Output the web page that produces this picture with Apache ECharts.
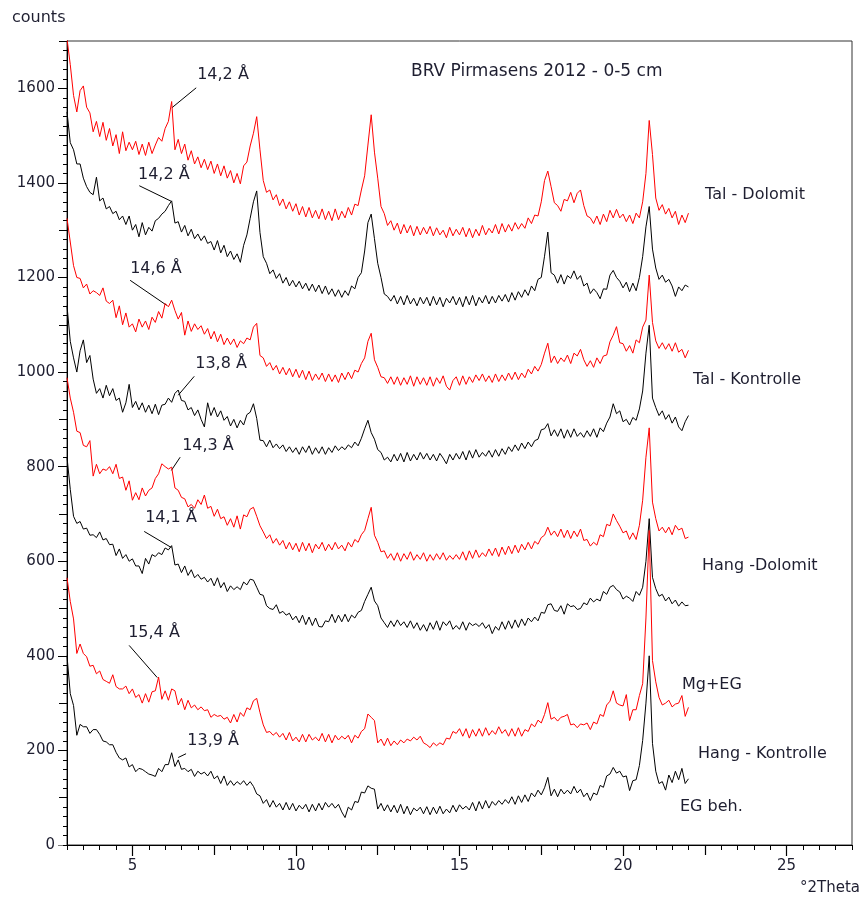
<!DOCTYPE html>
<html>
<head>
<meta charset="utf-8">
<script src="https://cdn.jsdelivr.net/npm/echarts@6/dist/echarts.min.js"></script>
<style>html,body{margin:0;padding:0;background:#fff}#main{width:862px;height:900px}</style>
</head>
<body>
<div id="main"></div>
<script>
// 2-theta grid (0.1° steps from 3.0° to 22.0°)
const twoTheta = Array.from({length: 191}, (_, i) => +(3 + i * 0.1).toFixed(1));

const xTickLabels = [5, 10, 15, 20, 25];
const yTickLabels = [0, 200, 400, 600, 800, 1000, 1200, 1400, 1600];

// Tal - Dolomit (Mg+EG, red)
const talDolomitMg = [
1705,1650,1585,1550,1595,1605,1560,1548,1508,1530,
1498,1528,1490,1515,1478,1502,1462,1508,1468,1486,
1470,1488,1460,1482,1458,1486,1462,1480,1496,1488,
1515,1530,1572,1470,1492,1462,1482,1448,1468,1440,
1455,1432,1450,1428,1446,1420,1440,1415,1436,1410,
1426,1400,1420,1398,1436,1444,1478,1505,1540,1470,
1405,1380,1385,1364,1375,1352,1366,1345,1360,1340,
1356,1332,1350,1328,1348,1326,1342,1324,1345,1322,
1340,1320,1345,1322,1340,1326,1348,1332,1355,1352,
1385,1415,1480,1544,1465,1410,1350,1335,1310,1320,
1300,1315,1292,1312,1294,1310,1288,1308,1290,1306,
1292,1308,1288,1305,1290,1300,1284,1306,1288,1302,
1290,1306,1286,1304,1284,1302,1288,1310,1290,1304,
1294,1312,1292,1314,1296,1312,1298,1316,1302,1314,
1304,1326,1314,1332,1330,1360,1405,1425,1392,1358,
1352,1340,1365,1362,1380,1358,1378,1385,1352,1330,
1326,1314,1330,1312,1334,1318,1342,1326,1344,1326,
1334,1318,1332,1314,1336,1326,1360,1420,1532,1460,
1368,1342,1354,1334,1346,1326,1340,1312,1332,1316,
1336];

// Tal - Dolomit (EG beh., black)
const talDolomitEG = [
1550,1485,1470,1440,1440,1410,1392,1380,1375,1412,
1362,1368,1345,1350,1335,1340,1322,1330,1312,1330,
1300,1312,1286,1316,1290,1306,1298,1320,1325,1334,
1340,1352,1362,1315,1318,1296,1310,1288,1302,1282,
1292,1278,1288,1272,1276,1258,1278,1252,1268,1244,
1256,1238,1250,1232,1268,1290,1325,1360,1383,1295,
1244,1230,1208,1216,1198,1208,1188,1200,1182,1194,
1180,1192,1176,1188,1172,1186,1170,1184,1166,1182,
1164,1176,1160,1174,1158,1172,1162,1182,1176,1200,
1210,1256,1316,1334,1282,1230,1200,1165,1160,1150,
1162,1144,1160,1142,1162,1144,1156,1140,1158,1144,
1158,1140,1160,1142,1158,1138,1156,1146,1160,1142,
1158,1138,1160,1142,1162,1140,1158,1146,1162,1144,
1160,1146,1162,1150,1164,1148,1168,1152,1170,1158,
1174,1162,1182,1172,1196,1200,1245,1296,1210,1205,
1188,1206,1186,1204,1198,1214,1196,1204,1182,1188,
1166,1176,1168,1155,1176,1175,1205,1215,1200,1192,
1178,1190,1170,1188,1172,1200,1244,1307,1350,1260,
1220,1196,1205,1190,1196,1182,1160,1180,1172,1184,
1180];

// Tal - Kontrolle (Mg+EG, red)
const talKontrolleMg = [
1325,1275,1225,1200,1198,1178,1186,1165,1172,1168,
1162,1178,1150,1145,1152,1115,1140,1100,1125,1095,
1102,1085,1112,1095,1108,1090,1116,1105,1128,1114,
1145,1138,1152,1130,1112,1126,1078,1108,1086,1102,
1090,1098,1080,1092,1070,1086,1064,1080,1058,1072,
1058,1070,1052,1066,1060,1072,1068,1095,1103,1035,
1030,1012,1020,1004,1014,996,1010,994,1008,990,
1006,988,1004,984,1002,982,996,984,998,980,
996,980,994,978,998,984,1000,986,1004,1000,
1018,1030,1065,1082,1026,1010,990,988,976,990,
974,990,972,988,974,992,970,990,974,988,
972,990,970,988,976,992,970,962,982,990,
972,992,974,990,978,994,982,996,980,992,
978,996,980,994,982,998,984,1000,984,998,
988,1006,996,1012,1002,1016,1040,1061,1020,1034,
1018,1030,1022,1036,1018,1040,1034,1048,1026,1012,
1024,1010,1030,1018,1034,1036,1064,1078,1096,1062,
1060,1044,1056,1040,1068,1062,1095,1110,1205,1105,
1066,1050,1062,1048,1060,1044,1062,1042,1048,1030,
1046];

// Tal - Kontrolle (EG beh., black)
const talKontrolleEG = [
1140,1065,1030,1000,1045,1068,1020,1035,985,955,
965,945,972,950,965,940,945,915,935,974,
925,938,920,935,915,930,912,932,910,930,
932,945,936,955,962,940,938,920,925,908,
920,900,884,935,908,925,905,918,898,906,
886,900,882,898,888,910,915,933,902,856,
855,842,856,840,848,838,846,832,842,830,
840,826,842,830,844,826,840,828,842,826,
840,830,844,834,842,836,846,840,852,844,
860,880,898,872,858,836,830,814,820,810,
826,812,828,810,830,812,826,814,830,816,
828,814,826,812,828,818,806,826,814,828,
816,832,814,834,818,836,820,830,822,834,
820,836,822,838,826,842,832,846,834,850,
838,852,842,855,858,878,880,891,865,878,
864,880,860,878,862,880,864,872,862,876,
864,880,862,882,874,892,905,933,912,918,
895,900,888,904,898,922,960,1040,1099,945,
925,908,918,900,910,892,905,884,876,895,
908];

// Hang - Dolomit (Mg+EG, red)
const hangDolomitMg = [
988,945,915,875,872,845,842,855,780,805,
785,795,792,800,785,805,775,778,750,770,
729,745,730,755,738,750,755,775,785,806,
800,795,799,755,750,735,732,715,720,712,
730,720,740,712,716,695,710,690,694,676,
690,672,696,668,698,694,710,714,695,675,
662,648,656,638,648,634,644,626,640,624,
638,620,640,622,638,618,636,626,640,622,
636,624,640,626,634,622,640,630,646,640,
656,665,690,714,655,640,620,622,606,616,
602,618,600,616,604,620,602,614,604,618,
600,614,602,616,604,618,602,612,604,614,
604,620,602,622,606,624,608,618,610,626,
612,628,610,630,614,632,616,634,618,636,
624,640,626,642,636,650,655,672,655,664,
652,668,650,666,648,664,652,668,644,646,
632,640,634,656,652,678,675,700,686,674,
660,664,646,660,646,676,729,820,882,725,
690,664,672,660,672,656,676,666,670,648,
651];

// Hang - Dolomit (EG beh., black)
const hangDolomitEG = [
820,752,695,680,684,668,670,655,656,650,
662,645,648,635,636,612,626,606,614,600,
605,590,590,574,606,594,614,610,618,614,
628,624,633,592,594,576,590,570,582,565,
572,562,566,556,564,548,565,544,555,536,
548,540,546,540,556,550,562,560,545,530,
528,506,500,498,508,490,494,486,490,476,
484,470,486,466,482,464,480,462,461,474,
472,488,470,486,472,488,472,486,480,492,
496,515,530,545,516,506,480,470,460,474,
462,476,464,472,460,474,458,470,454,466,
452,470,456,474,454,472,464,474,456,464,
456,472,454,470,464,468,462,470,458,466,
447,462,454,472,456,474,458,476,460,478,
464,480,472,482,474,492,490,508,510,496,
494,506,488,510,504,506,498,500,512,508,
522,514,520,516,536,530,545,549,540,535,
520,526,522,515,536,528,545,600,690,566,
542,526,530,516,524,510,518,505,514,506,
507];

// Hang - Kontrolle (Mg+EG, red)
const hangKontrolleMg = [
565,515,478,405,425,405,398,378,380,362,
368,350,346,342,360,335,330,330,336,320,
330,312,318,300,320,302,324,326,355,308,
326,306,330,326,296,310,286,306,290,296,
286,292,284,286,270,276,272,274,266,270,
258,276,260,280,272,290,286,305,310,280,
254,238,240,232,238,228,236,222,238,220,
228,218,234,218,234,222,228,220,236,218,
234,216,232,222,230,224,232,216,232,226,
240,246,277,270,263,216,224,210,226,210,
220,212,222,216,224,220,228,222,230,216,
212,206,216,210,216,212,226,224,240,236,
246,230,246,226,244,230,246,230,248,232,
242,234,250,236,244,230,246,230,248,230,
244,240,256,250,264,258,276,301,266,270,
262,270,272,276,254,256,248,256,254,258,
244,260,256,276,272,296,304,326,300,296,
294,318,263,286,286,316,341,480,665,390,
345,312,296,300,306,292,298,300,316,272,
291];

// Hang - Kontrolle (EG beh., black)
const hangKontrolleEG = [
400,320,295,232,255,250,250,236,244,244,
234,220,218,212,212,196,184,180,184,165,
170,155,162,160,155,150,148,145,162,155,
170,170,195,166,180,160,162,155,160,145,
156,150,154,146,156,140,146,130,146,126,
136,126,134,128,136,126,134,124,108,104,
88,96,80,94,80,88,74,90,74,88,
72,84,76,86,70,86,72,88,74,90,
80,88,78,86,70,58,80,74,92,90,
112,110,125,120,118,76,88,72,85,70,
84,68,86,66,82,64,78,72,80,66,
81,64,80,66,82,66,76,68,84,70,
85,76,82,74,90,72,92,76,94,78,
92,84,94,86,96,88,102,86,104,90,
106,92,110,102,116,106,121,143,104,118,
102,118,108,116,108,124,110,118,102,110,
94,110,106,126,122,146,150,164,152,156,
144,146,115,136,138,168,221,300,400,215,
156,130,134,116,148,132,156,138,162,130,
140];

const seriesList = [
  {name: 'Tal - Dolomit Mg+EG', data: talDolomitMg, color: '#ff0000'},
  {name: 'Tal - Dolomit EG', data: talDolomitEG, color: '#000000'},
  {name: 'Tal - Kontrolle Mg+EG', data: talKontrolleMg, color: '#ff0000'},
  {name: 'Tal - Kontrolle EG', data: talKontrolleEG, color: '#000000'},
  {name: 'Hang -Dolomit Mg+EG', data: hangDolomitMg, color: '#ff0000'},
  {name: 'Hang -Dolomit EG', data: hangDolomitEG, color: '#000000'},
  {name: 'Hang - Kontrolle Mg+EG', data: hangKontrolleMg, color: '#ff0000'},
  {name: 'Hang - Kontrolle EG', data: hangKontrolleEG, color: '#000000'}
];

// peak annotations in data coordinates
const annotations = [
  {text: '14,2 Å', at: [6.98, 1629], from: [6.95, 1601], to: [6.21, 1559]},
  {text: '14,2 Å', at: [5.17, 1417], from: [5.21, 1394], to: [6.19, 1361]},
  {text: '14,6 Å', at: [4.93, 1218], from: [4.93, 1194], to: [6.05, 1141]},
  {text: '13,8 Å', at: [6.92, 1017], from: [6.89, 991], to: [6.40, 951]},
  {text: '14,3 Å', at: [6.52, 843], from: [6.46, 820], to: [6.19, 792]},
  {text: '14,1 Å', at: [5.39, 691], from: [5.36, 663], to: [6.19, 629]},
  {text: '15,4 Å', at: [4.87, 448], from: [4.90, 422], to: [5.76, 354]},
  {text: '13,9 Å', at: [6.68, 221], from: [6.64, 193], to: [6.40, 185]}
];

const textColor = '#1e1e30';
const FONT = '"DejaVu Sans", Verdana, sans-serif';

// longer tick marks (major / medium) [value, length px]
const xLongTicks = [[5, 11], [7.5, 10], [10, 11], [12.5, 10], [15, 11], [17.5, 10], [20, 11], [22.5, 10], [25, 11]];
const yLongTicks = [];
for (let v = 0; v <= 1700; v += 100) yLongTicks.push([v, v % 200 === 0 ? 9 : 8]);

const chart = echarts.init(document.getElementById('main'), null, {renderer: 'canvas'});
chart.setOption({
  animation: false,
  backgroundColor: '#ffffff',
  grid: [
    {left: 67, right: 10, top: 41, bottom: 55, show: true, borderColor: '#333', borderWidth: 1, backgroundColor: 'transparent'},
    {left: 67, right: 10, top: 845, height: 11, show: false},
    {left: 58, width: 9, top: 41, bottom: 55, show: false}
  ],
  xAxis: [
    {
      type: 'value', min: 3, max: 27, interval: 0.5, gridIndex: 0,
      axisLine: {show: true, onZero: false, lineStyle: {color: '#000', width: 1}},
      axisTick: {show: true, length: 5, inside: false, lineStyle: {color: '#000', width: 1}},
      axisLabel: {show: true, margin: 14, color: textColor, fontSize: 15, fontFamily: FONT,
        formatter: v => (xTickLabels.indexOf(v) >= 0 ? String(v) : '')},
      splitLine: {show: false}
    },
    {type: 'value', min: 3, max: 27, gridIndex: 1, show: false},
    {type: 'value', min: 0, max: 9, gridIndex: 2, show: false}
  ],
  yAxis: [
    {
      type: 'value', min: 0, max: 1700, interval: 20, gridIndex: 0,
      axisLine: {show: true, onZero: false, lineStyle: {color: '#000', width: 1}},
      axisTick: {show: true, length: 4, inside: false, lineStyle: {color: '#000', width: 1}},
      axisLabel: {show: true, margin: 12, color: textColor, fontSize: 15, fontFamily: FONT,
        formatter: v => (yTickLabels.indexOf(v) >= 0 ? String(v) : '')},
      splitLine: {show: false}
    },
    {type: 'value', min: 0, max: 11, inverse: true, gridIndex: 1, show: false},
    {type: 'value', min: 0, max: 1700, gridIndex: 2, show: false}
  ],
  series: seriesList.map(s => ({
    name: s.name, type: 'line', xAxisIndex: 0, yAxisIndex: 0,
    data: twoTheta.map((x, i) => [x, s.data[i]]),
    showSymbol: false, symbol: 'none',
    lineStyle: {color: s.color, width: 1},
    itemStyle: {color: s.color},
    emphasis: {disabled: true},
    silent: true
  })).concat([
    {
      type: 'lines', coordinateSystem: 'cartesian2d', xAxisIndex: 1, yAxisIndex: 1, silent: true,
      data: xLongTicks.map(([v, len]) => ({coords: [[v, 0], [v, len]]})),
      lineStyle: {color: '#000', width: 1.2, opacity: 1, curveness: 0},
      symbol: 'none'
    },
    {
      type: 'lines', coordinateSystem: 'cartesian2d', xAxisIndex: 2, yAxisIndex: 2, silent: true,
      data: yLongTicks.map(([v, len]) => ({coords: [[9 - len, v], [9, v]]})),
      lineStyle: {color: '#000', width: 1.2, opacity: 1, curveness: 0},
      symbol: 'none'
    }
  ])
});

const toPx = p => chart.convertToPixel({xAxisIndex: 0, yAxisIndex: 0}, p);
const graphics = [];
annotations.forEach(a => {
  const t = toPx(a.at), f = toPx(a.from), e = toPx(a.to);
  graphics.push({type: 'text', silent: true, style: {text: a.text, x: t[0], y: t[1], fill: textColor, font: '16px ' + FONT, verticalAlign: 'middle', align: 'left'}});
  graphics.push({type: 'line', silent: true, shape: {x1: f[0], y1: f[1], x2: e[0], y2: e[1]}, style: {stroke: '#000', lineWidth: 1}});
});
const freeTexts = [
  {text: 'counts', x: 12, y: 18, align: 'left', size: 16},
  {text: '°2Theta', x: 860, y: 888, align: 'right', size: 15},
  {text: 'BRV Pirmasens 2012 - 0-5 cm', x: 411, y: 72, align: 'left', size: 17},
  {text: 'Tal - Dolomit', x: 705, y: 195, align: 'left', size: 16},
  {text: 'Tal - Kontrolle', x: 693, y: 380, align: 'left', size: 16},
  {text: 'Hang -Dolomit', x: 702, y: 566, align: 'left', size: 16},
  {text: 'Mg+EG', x: 682, y: 685, align: 'left', size: 16},
  {text: 'Hang - Kontrolle', x: 698, y: 754, align: 'left', size: 16},
  {text: 'EG beh.', x: 680, y: 807, align: 'left', size: 16}
];
freeTexts.forEach(t => graphics.push({type: 'text', silent: true, style: {text: t.text, x: t.x, y: t.y, fill: textColor, font: t.size + 'px ' + FONT, verticalAlign: 'middle', align: t.align}}));
chart.setOption({graphic: graphics});
</script>
</body>
</html>
